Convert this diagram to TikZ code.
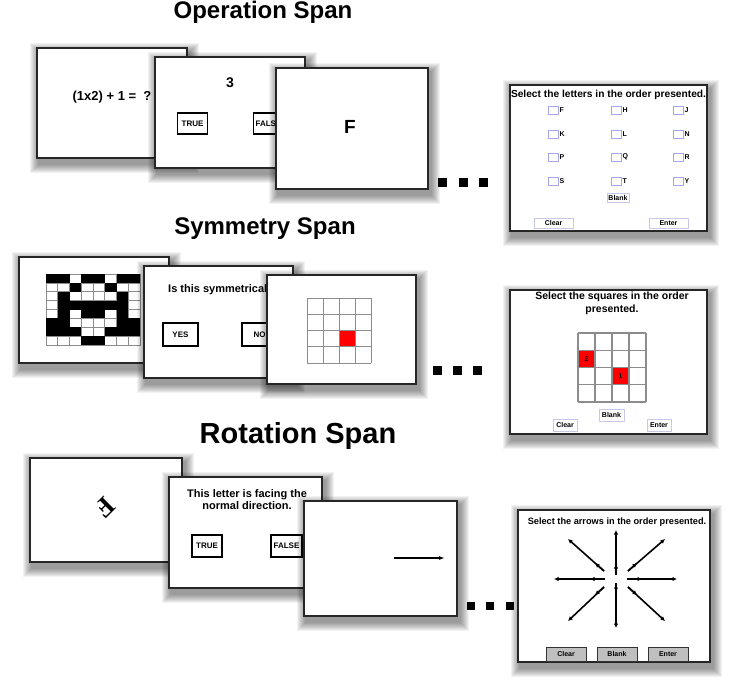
\documentclass[tikz,border=0pt]{standalone}
\usepackage{fontspec}
\setmainfont{Liberation Sans}
\newfontfamily\serifF{Liberation Serif}
\usetikzlibrary{arrows.meta,calc}
\definecolor{chkblue}{RGB}{165,165,235}
\definecolor{btnblue}{RGB}{200,200,235}
\newcommand\fsz[1]{\fontsize{#1}{#1}\selectfont\bfseries}
\newcommand\shadowrect[4]{%
  \foreach \k in {1,...,9}{\fill[black,opacity=0.05] ({#1+2-\k},{#2+4-\k}) rectangle ({#3+3+\k},{#4+6+\k});}}
\newcommand\panel[5]{%
  \shadowrect{#2}{#3}{#4}{#5}
  \draw[panelbox] (#2,#3) rectangle (#4,#5);
  \coordinate (#1) at ({(#2+#4)/2},{(#3+#5)/2});}
\tikzset{
  panelbox/.style={draw=black!85, line width=1.4, fill=white},
  btn/.style={draw=black, line width=1.8, fill=white, font=\fsz{8}, inner sep=0.5, minimum width=30, minimum height=21},
  chk/.style={draw=chkblue, line width=0.8},
  lbtn/.style={draw=btnblue, line width=0.9, fill=white, font=\fsz{7}, inner sep=0},
  gbtn/.style={draw=black!80, line width=1, fill=black!25, font=\fsz{7}, inner sep=0, minimum width=40, minimum height=14},
  gl/.style={draw=black!45, line width=0.9},
  starr/.style={line width=1.6, -{Latex[length=4.5,width=4.5]}},
  dot/.style={fill=black},
}
\begin{document}
\begin{tikzpicture}[x=1pt,y=-1pt]
\useasboundingbox (0,0) rectangle (749,694);
\fill[white] (0,0) rectangle (749,694);

% titles
\node[font=\fsz{24}, anchor=base] (t1) at (263,18) {Operation Span};
\node[font=\fsz{24}, anchor=base] (t2) at (265,234) {Symmetry Span};
\node[font=\fsz{29}, anchor=base] (t3) at (298,443) {Rotation Span};

% ===== Row 1: Operation span
\panel{A1}{37}{48}{187}{158}
\node[font=\fsz{13}] (eq) at (112,97) {(1x2) + 1 =\ \ ?};
\panel{A2}{155}{57}{305}{168}
\node[font=\fsz{14}] (n3) at (230,83) {3};
\node[btn] (tr1) at (192.5,123.5) {TRUE};
\node[btn] (fa1) at (268.5,123.5) {FALSE};
\panel{A3}{276}{68}{428}{189}
\node[font=\fsz{19}] (F1) at (350,127) {F};
\foreach \x in {442,463,483} \fill[dot] ({\x-4.5},177.5) rectangle ({\x+4.5},186.5);

\panel{A4}{510}{85}{707}{231}
\node[font=\fsz{10.2}, anchor=base] (a4t) at (608.5,97) {Select the letters in the order presented.};
\foreach \cx/\cy/\L in {553/110/F, 616/110/H, 678/110/J, 553/134/K, 616/134/L, 678/134/N, 553/157/P, 616/157/Q, 678/157/R, 553/181/S, 616/181/T, 678/181/Y}{
  \draw[chk] ({\cx-5},{\cy-4}) rectangle ({\cx+5},{\cy+4});
  \node[font=\fsz{7}, anchor=west, inner sep=0] (L\L) at ({\cx+6.5},\cy) {\L};
}
\node[lbtn, minimum width=22, minimum height=9] (blank1) at (618,197.5) {Blank};
\node[lbtn, minimum width=39, minimum height=10] (clear1) at (553.5,223) {Clear};
\node[lbtn, minimum width=39, minimum height=10] (enter1) at (668.5,223) {Enter};

% ===== Row 2: Symmetry span
\panel{B1}{19}{257}{169}{363}
\foreach \row [count=\r from 0] in {{1,1,0,1,1,0,1,1},{0,0,1,0,0,1,0,0},{0,1,0,0,0,0,1,0},{0,1,1,1,1,1,1,0},{0,1,0,1,1,0,1,0},{1,1,0,0,0,0,1,1},{1,1,1,0,0,1,1,1},{0,0,0,1,1,0,0,0}}{
  \foreach \v [count=\c from 0] in \row {
    \draw[draw=black!45, line width=0.6, fill=white] ({46+\c*11.75},{274+\r*8.875}) rectangle +(11.75,8.875);
  }
}
\foreach \row [count=\r from 0] in {{1,1,0,1,1,0,1,1},{0,0,1,0,0,1,0,0},{0,1,0,0,0,0,1,0},{0,1,1,1,1,1,1,0},{0,1,0,1,1,0,1,0},{1,1,0,0,0,0,1,1},{1,1,1,0,0,1,1,1},{0,0,0,1,1,0,0,0}}{
  \foreach \v [count=\c from 0] in \row {
    \ifnum\v=1 \fill[black] ({46+\c*11.75},{274+\r*8.875}) rectangle +(11.75,8.875); \fi
  }
}
\panel{B2}{144}{266}{293}{378}
\node[font=\fsz{11}, anchor=base west, inner sep=0] (sq) at (168,292) {Is this symmetrical?};
\node[btn, minimum width=35, minimum height=23] (yes) at (180.5,334.5) {YES};
\node[btn, minimum width=35, minimum height=23] (no) at (259.5,334.5) {NO};
\panel{B3}{267}{275}{416}{384}
\fill[red] (339,330.5) rectangle +(16,16.25);
\foreach \i in {0,...,4}{
  \draw[gl] ({307+\i*16},298) -- ({307+\i*16},363);
  \draw[gl] (307,{298+\i*16.25}) -- (371,{298+\i*16.25});
}
\foreach \x in {437,457,477} \fill[dot] ({\x-4.5},366) rectangle ({\x+4.5},375);

\panel{B4}{510}{290}{707}{434}
\node[font=\fsz{10.5}, anchor=base] (b4t1) at (612,299) {Select the squares in the order};
\node[font=\fsz{10.5}, anchor=base] (b4t2) at (612,312.5) {presented.};
\fill[red] (578,350.25) rectangle +(17,17.25);
\fill[red] (612,367.5) rectangle +(17,17.25);
\foreach \i in {0,...,4}{
  \draw[gl, line width=1.2] ({578+\i*17},333) -- ({578+\i*17},402);
  \draw[gl, line width=1.2] (578,{333+\i*17.25}) -- (646,{333+\i*17.25});
}
\node[font=\fsz{7}] (r2) at (586.5,359) {2};
\node[font=\fsz{7}] (r1) at (620.5,376) {1};
\node[lbtn, minimum width=25, minimum height=12] (blank2) at (611.5,415) {Blank};
\node[lbtn, minimum width=24, minimum height=12] (clear2) at (565,425) {Clear};
\node[lbtn, minimum width=24, minimum height=12] (enter2) at (659,425) {Enter};

% ===== Row 3: Rotation span
\panel{C1}{30}{458}{182}{562}
\node[font=\serifF\bfseries\fontsize{27}{27}\selectfont, rotate=-135] (rf) at (105,508) {F};
\panel{C2}{169}{477}{322}{588}
\node[font=\fsz{11}, anchor=base] (c2t1) at (247,497) {This letter is facing the};
\node[font=\fsz{11}, anchor=base] (c2t2) at (247,509) {normal direction.};
\node[btn, minimum width=30, minimum height=22] (tr2) at (207,546) {TRUE};
\node[btn, minimum width=31, minimum height=22] (fa2) at (286.5,546) {FALSE};
\panel{C3}{304}{501}{457}{616}
\coordinate (as) at (394,558);
\coordinate (ae) at (445,558);
\draw[line width=1.3, -{Latex[length=6,width=4]}] (as) -- (ae);
\foreach \x in {471,490,510} \fill[dot] ({\x-4},601.5) rectangle ({\x+4},609.5);

\panel{C4}{518}{510}{710}{662}
\node[font=\fsz{9.2}, anchor=base] (c4t) at (617,524) {Select the arrows in the order presented.};
\coordinate (sc) at (616,579);
\foreach \ox/\oy/\mx/\my/\ix/\iy in {61/0/26/0/11/0, -62/0/-26/0/-11/0, 0/-49/0/-15/0/-4, 0/49/0/13/0/4, 49/-40/21/-16/12/-8, -48/-40/-21/-16/-12/-8, 49/42/21/16/12/8, -48/42/-21/16/-12/8}{
  \draw[starr] ($(sc)+(\ix,\iy)$) -- ($(sc)+(\ox,\oy)$);
  \draw[starr] ($(sc)+(\ix,\iy)$) -- ($(sc)+(\mx,\my)$);
}
\node[gbtn] (clear3) at (566,654) {Clear};
\node[gbtn] (blank3) at (617,654) {Blank};
\node[gbtn] (enter3) at (668,654) {Enter};
\end{tikzpicture}
\end{document}
